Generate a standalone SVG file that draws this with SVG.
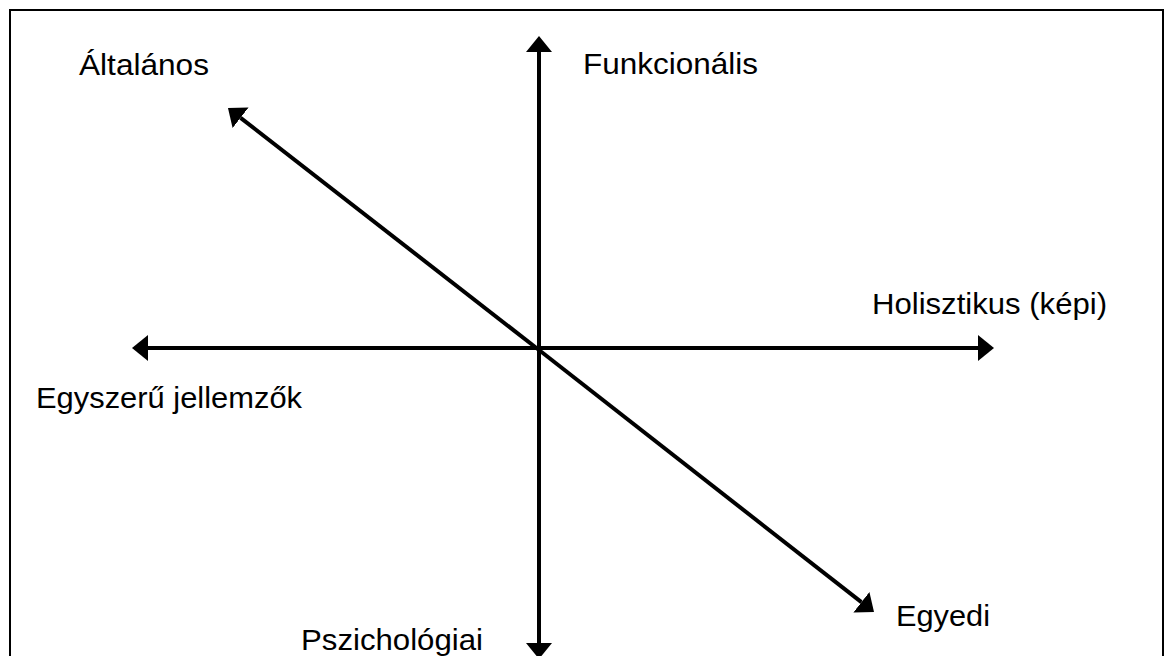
<svg xmlns="http://www.w3.org/2000/svg" width="1165" height="656" viewBox="0 0 1165 656">
<defs>
<style>
.lbl{font-family:"Liberation Sans",Arial,Helvetica,sans-serif;font-size:29.5px;fill:#000}
.ax{stroke:#000;stroke-width:4;fill:none}
</style>
<marker id="ah" markerUnits="userSpaceOnUse" viewBox="0 -13 16 26" refX="0" refY="0" markerWidth="16" markerHeight="26" orient="auto">
<path d="M0,-13 L16,0 L0,13 Z" fill="#000"/>
</marker>
</defs>
<rect x="0" y="0" width="1165" height="656" fill="#fff"/>
<rect x="10" y="10" width="1153" height="700" fill="none" stroke="#000" stroke-width="2"/>
<g id="connectors">
<path class="ax" d="M539,348 L539,52" marker-end="url(#ah)"/>
<path class="ax" d="M539,348 L539,643" marker-end="url(#ah)"/>
<path class="ax" d="M539,348 L148,348" marker-end="url(#ah)"/>
<path class="ax" d="M539,348 L978,348" marker-end="url(#ah)"/>
<path class="ax" d="M539,350 L240.6,117.8" marker-end="url(#ah)"/>
<path class="ax" d="M539,350 L861.4,602.2" marker-end="url(#ah)"/>
</g>
<g id="n-altalanos"><text class="lbl" x="79" y="75" textLength="130" lengthAdjust="spacingAndGlyphs">Általános</text></g>
<g id="n-funkcionalis"><text class="lbl" x="583" y="74" textLength="175" lengthAdjust="spacingAndGlyphs">Funkcionális</text></g>
<g id="n-holisztikus"><text class="lbl" x="872" y="314" textLength="235" lengthAdjust="spacingAndGlyphs">Holisztikus (képi)</text></g>
<g id="n-egyszeru"><text class="lbl" x="36" y="408" textLength="266" lengthAdjust="spacingAndGlyphs">Egyszerű jellemzők</text></g>
<g id="n-pszichologiai"><text class="lbl" x="301" y="650" textLength="182" lengthAdjust="spacingAndGlyphs">Pszichológiai</text></g>
<g id="n-egyedi"><text class="lbl" x="896" y="626" textLength="94" lengthAdjust="spacingAndGlyphs">Egyedi</text></g>
</svg>
